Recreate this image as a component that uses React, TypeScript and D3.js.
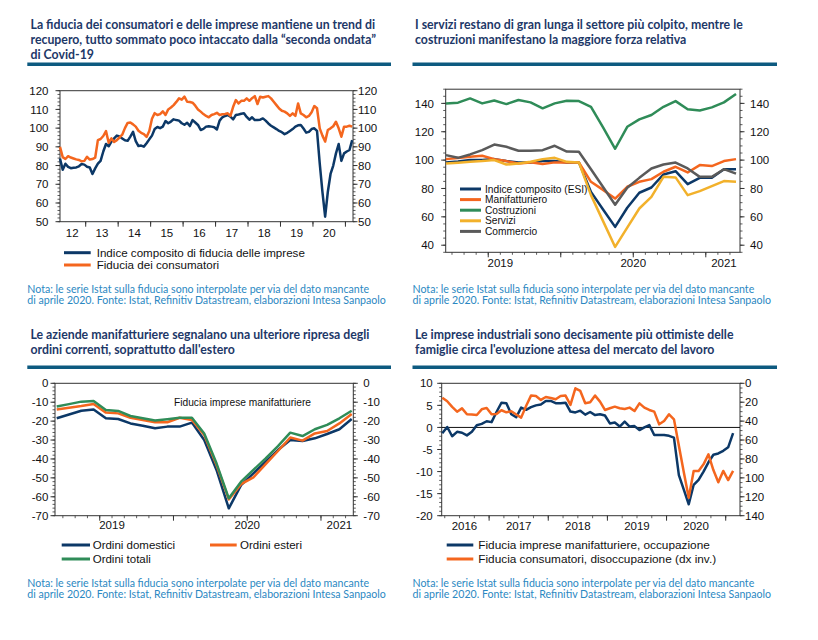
import { useEffect, useRef } from "react";
import * as d3 from "d3";

// Grafico 1: fiducia Istat, mensile mar-2012 / mar-2021
const p1Start: [number, number] = [2012, 3];
const p1YearLabels = ["12", "13", "14", "15", "16", "17", "18", "19", "20"];
const p1Imprese = [
  83.8, 77.8, 81, 79.3, 78.6, 78.8, 79, 79.6, 80.8, 80.5,
  79.4, 79, 75.5, 78.5, 81, 82.5, 87.5, 91.5, 90.3, 92.8,
  94.5, 96, 95.5, 94.5, 93.5, 93.2, 95.5, 98, 93, 90.4,
  90.7, 90.1, 91.9, 94, 96, 99.5, 100.6, 100, 100.8, 103.8,
  102.6, 103.5, 104.7, 104.3, 104, 102.6, 101.8, 102.9, 101.1, 104.3,
  103, 101.7, 99, 99.6, 100.8, 101, 100.8, 100.5, 99.3, 104,
  105.8, 106.5, 107, 106.1, 104.7, 107, 107.3, 107.7, 107.9, 106,
  104.5, 105.8, 104.3, 104.3, 104.5, 105.2, 104, 102.5, 101.3, 100.4,
  99.5, 98.5, 97.8, 96.8, 97.5, 98.5, 99.5, 100.8, 101.5, 101.7,
  99.8, 97.6, 98, 99.5, 99.9, 98.5, 81.2, 66, 52.7, 66,
  75.5, 80, 86.5, 91.5, 82.5, 86.5, 87.5, 88.3, 93.6,
];
const p1Consumatori = [
  90, 84.5, 83.5, 85, 84.3, 83.8, 83.3, 83, 82.3, 82.5,
  84.7, 83.2, 83.5, 84.2, 93.6, 94.2, 95.8, 98.4, 92.2, 94.5,
  92.6, 93.6, 95, 96.5, 100, 102.8, 103, 102, 100.8, 98.6,
  97.5, 96.8, 95.3, 98.5, 105, 108, 107, 107.5, 109, 107,
  110, 111, 112.3, 114, 115.9, 115.2, 116.8, 114.1, 114, 113.6,
  112, 110, 108.8, 107.5, 106.5, 105.8, 107, 107.5, 108.2, 107,
  107.4, 107.6, 107.9, 106.5, 111.4, 115, 113.2, 114.6, 114.6, 115.9,
  114.6, 116, 117.1, 112.9, 116.8, 116.4, 116.8, 117.1, 115.9, 114.1,
  112.3, 110.5, 109.3, 108.8, 107.9, 106.5, 107.9, 106.5, 113.2, 107.9,
  107, 105.8, 106.5, 108.5, 111.8, 110.6, 99.9, 96, 92.8, 99,
  99.9, 101, 103.4, 99.9, 95.4, 100.8, 100.8, 101.3, 100.8,
];

// Grafico 2: ESI per settore, mar-2019 / mar-2021
const p2Start: [number, number] = [2019, 3];
const p2YearLabels = ["2019", "2020", "2021"];
const p2Esi = [98.4, 99, 100, 100, 100.7, 99.3, 98.4, 98.4, 99.3, 99.3, 98.4, 98.4, 77.6, 65.2, 52.9, 66.4, 77, 80.7, 89.9, 92.2, 83, 87.5, 87.5, 93.6, 93.6];
const p2Manif = [100.7, 101.5, 102.4, 103.1, 100.7, 99.3, 97.6, 98.4, 97.2, 98.4, 98.4, 98.4, 84.7, 79, 72.9, 81.2, 84.7, 86.6, 91.8, 95.3, 91.3, 96.5, 95.8, 99.3, 100.7];
const p2Costr = [140, 140.5, 143.5, 140, 142, 139.5, 142.4, 140.7, 136.5, 140, 141.9, 141.6, 137.6, 123, 108, 123.5, 128.7, 131.8, 137.6, 141.6, 135.8, 135, 137.2, 140.7, 146.6];
const p2Servizi = [97.6, 98.2, 98.8, 99.3, 100, 96.9, 97.6, 98.8, 100.7, 101.6, 98.8, 98.4, 75.3, 57, 38.8, 52.4, 65.9, 74.1, 88.2, 87.8, 75.3, 78.1, 81.6, 85.2, 84.7];
const p2Commercio = [103.5, 101.6, 104, 107, 111, 109.4, 106.6, 106.6, 107, 110.1, 106, 105.9, 93.5, 81, 68.5, 80.5, 87.5, 94.1, 96.9, 98.3, 94.1, 88.2, 88.2, 93.6, 90.5];
const p2Names = ["Indice composito (ESI)", "Manifatturiero", "Costruzioni", "Servizi", "Commercio"];

// Grafico 3: ordini manifattura, mar-2019 / mar-2021
const p3Start: [number, number] = [2019, 3];
const p3YearLabels = ["2019", "2020", "2021"];
const p3Domestici = [-18.5, -16.5, -14.5, -13.8, -18.5, -18.9, -21.2, -22.4, -23.8, -22.9, -22.9, -20.8, -30, -45.8, -66.1, -53.8, -47.6, -41.4, -35.3, -30, -30.5, -29.1, -26.8, -24.3, -18.9];
const p3Esteri = [-13.8, -12.9, -12, -10.9, -15.5, -15.9, -18.2, -19.4, -20.6, -20.6, -18.2, -19.4, -27.3, -43.2, -61.4, -53.3, -49.7, -42.7, -35.8, -28.7, -30.3, -26.5, -25.2, -21.2, -16.2];
const p3Totali = [-12.3, -11, -9.7, -9.3, -14.1, -14.6, -17.3, -18.5, -19.7, -19, -18.2, -18.2, -26.5, -42.3, -60.8, -52, -45.8, -39.7, -33.2, -26.1, -27.9, -24.3, -22, -18.5, -14.5];

// Grafico 4: occupazione / disoccupazione attese, mar-2016 / feb-2021
const p4Start: [number, number] = [2016, 3];
const p4YearLabels = ["2016", "2017", "2018", "2019", "2020"];
const p4Occupazione = [
  -1.3, 0.1, -2.0, -1.0, -1.2, -1.8, -1.0, 0.5, 0.8, 1.4,
  1.2, 3.5, 5.6, 5.5, 3.0, 2.3, 4.5, 4.0, 4.6, 5.0,
  5.2, 6.0, 6.0, 5.5, 5.5, 5.6, 3.6, 3.4, 3.8, 2.9,
  3.5, 2.8, 3.0, 2.7, 0.9, 1.1, 0.2, 1.3, 0.2, 0.3,
  -0.6, 0, 0.55, -1.7, -1.7, -1.7, -1.9, -2.3, -10.8, -14.1,
  -17.4, -13, -11.9, -10, -7.9, -6.2, -5.9, -5.3, -4.5, -1.3,
];
const p4Disoccupazione = [
  15.2, 19, 25, 30, 26.5, 32.8, 33, 33.5, 27.5, 26,
  32.8, 32.5, 28.5, 30.7, 29.5, 33, 36.3, 24, 13, 13.5,
  17.6, 14.5, 15.5, 16.9, 13.4, 13, 22.9, 5.3, 8.1, 21,
  20.1, 13, 19.4, 28.2, 26.4, 24.7, 26.4, 27.2, 25.7, 29.3,
  21.2, 25.7, 28.2, 30, 43.4, 39.8, 32.8, 38.1, 66, 94,
  121, 92.7, 92.7, 85.7, 75.1, 91.7, 104.7, 92.7, 102.3, 92.7,
];

const titles = [
  ["La fiducia dei consumatori e delle imprese mantiene un trend di", "recupero, tutto sommato poco intaccato dalla \u201cseconda ondata\u201d", "di Covid-19"],
  ["I servizi restano di gran lunga il settore più colpito, mentre le", "costruzioni manifestano la maggiore forza relativa"],
  ["Le aziende manifatturiere segnalano una ulteriore ripresa degli", "ordini correnti, soprattutto dall'estero"],
  ["Le imprese industriali sono decisamente più ottimiste delle", "famiglie circa l'evoluzione attesa del mercato del lavoro"],
];
const nota = [
  "Nota: le serie Istat sulla fiducia sono interpolate per via del dato mancante",
  "di aprile 2020. Fonte: Istat, Refinitiv Datastream, elaborazioni Intesa Sanpaolo",
];

const NAVY = "#0c3867";
const ORANGE = "#f4661e";
const GREEN = "#2f8c58";
const YELLOW = "#f2b12b";
const GREY = "#5a5a5a";
const AXIS = "#333";
const TITLE = "#1d3868";
const RULE = "#0d5a80";
const NOTE = "#2b88c2";
const SANS = "'Liberation Sans', Arial, sans-serif";
const HEAD = "Lato, 'Open Sans', sans-serif";

type Start = [number, number];
type G = d3.Selection<SVGGElement, unknown, null, undefined>;
type Box = { x0: number; x1: number; y0: number; y1: number };

const monthOf = (s: Start, i: number) => (s[1] - 1 + i) % 12;
const boundaries = (s: Start, n: number, every: number) =>
  d3.range(1, n).filter((i) => monthOf(s, i) % every === 0).map((i) => i - 0.5);
const yearCentres = (s: Start, n: number, labels: string[]) =>
  labels.map((t, k) => {
    const f = k * 12 - (s[1] - 1);
    const a = Math.max(0, f), b = Math.min(n - 1, f + 11);
    return { t, c: (a + b) / 2 };
  });

function frame(g: G, b: Box) {
  g.append("rect")
    .attr("x", b.x0).attr("y", b.y0)
    .attr("width", b.x1 - b.x0).attr("height", b.y1 - b.y0)
    .attr("fill", "none").attr("stroke", AXIS).attr("stroke-width", 1);
}

function yAxis(g: G, y: d3.ScaleLinear<number, number>, x: number, side: "left" | "right",
  ticks: number[], minor: number, gap: number) {
  const dir = side === "left" ? -1 : 1;
  const [a, b] = d3.extent(y.domain()) as [number, number];
  for (let v = a; v <= b + 1e-9; v += minor) {
    g.append("line").attr("x1", x).attr("x2", x + dir * 2.5)
      .attr("y1", y(v)).attr("y2", y(v)).attr("stroke", AXIS).attr("stroke-width", 0.8);
  }
  ticks.forEach((v) => {
    g.append("line").attr("x1", x).attr("x2", x + dir * 4.5)
      .attr("y1", y(v)).attr("y2", y(v)).attr("stroke", AXIS).attr("stroke-width", 1);
    g.append("text").attr("x", x + dir * gap).attr("y", y(v)).attr("dy", "0.36em")
      .attr("text-anchor", side === "left" ? "end" : "start")
      .attr("font-family", SANS).attr("font-size", 11.5).attr("fill", "#111")
      .text(String(v));
  });
}

function xAxis(g: G, x: d3.ScaleLinear<number, number>, b: Box, s: Start, n: number,
  labels: string[], majorEvery: number, minorEvery: number, labelY: number) {
  boundaries(s, n, minorEvery).forEach((i) => {
    g.append("line").attr("x1", x(i)).attr("x2", x(i)).attr("y1", b.y1).attr("y2", b.y1 + 2.5)
      .attr("stroke", AXIS).attr("stroke-width", 0.8);
  });
  boundaries(s, n, majorEvery).forEach((i) => {
    g.append("line").attr("x1", x(i)).attr("x2", x(i)).attr("y1", b.y1).attr("y2", b.y1 + 5)
      .attr("stroke", AXIS).attr("stroke-width", 1);
  });
  yearCentres(s, n, labels).forEach(({ t, c }) => {
    g.append("text").attr("x", x(c)).attr("y", labelY).attr("dy", "0.36em")
      .attr("text-anchor", "middle").attr("font-family", SANS).attr("font-size", 11.5)
      .attr("fill", "#111").text(t);
  });
}

function series(g: G, x: d3.ScaleLinear<number, number>, y: d3.ScaleLinear<number, number>,
  values: number[], color: string) {
  const line = d3.line<number>().x((_, i) => x(i)).y((d) => y(d));
  g.append("path").attr("d", line(values)).attr("fill", "none")
    .attr("stroke", color).attr("stroke-width", 2.5).attr("stroke-linejoin", "round");
}

function legendRow(g: G, x0: number, x1: number, tx: number, y: number, color: string,
  label: string, size: number) {
  g.append("line").attr("x1", x0).attr("x2", x1).attr("y1", y).attr("y2", y)
    .attr("stroke", color).attr("stroke-width", 3);
  g.append("text").attr("x", tx).attr("y", y).attr("dy", "0.36em")
    .attr("font-family", SANS).attr("font-size", size).attr("fill", "#111").text(label);
}

function heading(g: G, x: number, lines: string[], y0: number, ruleX0: number, ruleX1: number, ruleY: number) {
  lines.forEach((t, k) => {
    g.append("text").attr("x", x).attr("y", y0 + k * 14.8)
      .attr("font-family", HEAD).attr("font-weight", 700).attr("font-size", 12.3)
      .attr("fill", TITLE).text(t);
  });
  g.append("line").attr("x1", ruleX0).attr("x2", ruleX1).attr("y1", ruleY).attr("y2", ruleY)
    .attr("stroke", RULE).attr("stroke-width", 3.5);
}

function note(g: G, x: number, y0: number) {
  nota.forEach((t, k) => {
    g.append("text").attr("x", x).attr("y", y0 + k * 11)
      .attr("font-family", HEAD).attr("font-size", 10.6).attr("fill", NOTE).text(t);
  });
}

export default function App() {
  const ref = useRef<SVGSVGElement | null>(null);

  useEffect(() => {
    if (!ref.current) return;
    const svg = d3.select(ref.current);
    svg.selectAll("*").remove();
    const root = svg.append("g") as G;

    // Titoli e note
    heading(root, 30.5, titles[0], 29.3, 27.3, 391, 64.3);
    heading(root, 415, titles[1], 29.3, 412.5, 777, 64.3);
    heading(root, 30.5, titles[2], 339.3, 27.3, 391, 367.3);
    heading(root, 415, titles[3], 339.3, 412.5, 777, 367.3);
    note(root, 27.3, 293.3);
    note(root, 412.5, 293.3);
    note(root, 27.3, 586.5);
    note(root, 412.5, 586.5);

    // Grafico 1
    {
      const b: Box = { x0: 60, x1: 353, y0: 90.7, y1: 221.7 };
      const n = p1Imprese.length;
      const x = d3.scaleLinear().domain([0, n - 0.7]).range([b.x0, b.x1]);
      const y = d3.scaleLinear().domain([50, 120]).range([b.y1, b.y0]);
      const g = root.append("g") as G;
      frame(g, b);
      yAxis(g, y, b.x0, "left", d3.range(50, 121, 10), 2, 11.5);
      yAxis(g, y, b.x1, "right", d3.range(50, 121, 10), 2, 5);
      xAxis(g, x, b, p1Start, n, p1YearLabels, 12, 12, 233.3);
      series(g, x, y, p1Imprese, NAVY);
      series(g, x, y, p1Consumatori, ORANGE);
      legendRow(g, 64, 90.7, 96.7, 252.7, NAVY, "Indice composito di fiducia delle imprese", 11.6);
      legendRow(g, 64, 90.7, 96.7, 265, ORANGE, "Fiducia dei consumatori", 11.6);
    }

    // Grafico 2
    {
      const b: Box = { x0: 445.7, x1: 740, y0: 89.2, y1: 252.3 };
      const n = p2Esi.length;
      const x = d3.scaleLinear().domain([-0.02, 24.33]).range([b.x0, b.x1]);
      const y = d3.scaleLinear().domain([35, 150]).range([b.y1, b.y0]);
      const g = root.append("g") as G;
      frame(g, b);
      yAxis(g, y, b.x0, "left", d3.range(40, 141, 20), 5, 11.7);
      yAxis(g, y, b.x1, "right", d3.range(40, 141, 20), 5, 10);
      xAxis(g, x, b, p2Start, n, p2YearLabels, 6, 1, 262.7);
      const data = [p2Esi, p2Manif, p2Costr, p2Servizi, p2Commercio];
      const colors = [NAVY, ORANGE, GREEN, YELLOW, GREY];
      data.forEach((d, k) => series(g, x, y, d, colors[k]));
      const rows = [189, 199.6, 210.2, 220.8, 231.4];
      p2Names.forEach((t, k) => legendRow(g, 460, 481, 485, rows[k], colors[k], t, 10.2));
    }

    // Grafico 3
    {
      const b: Box = { x0: 55, x1: 353.3, y0: 383.3, y1: 515.7 };
      const n = p3Domestici.length;
      const x = d3.scaleLinear().domain([-0.14, 24.13]).range([b.x0, b.x1]);
      const y = d3.scaleLinear().domain([-70, 0]).range([b.y1, b.y0]);
      const g = root.append("g") as G;
      frame(g, b);
      yAxis(g, y, b.x0, "left", d3.range(-70, 1, 10), 2, 6.7);
      yAxis(g, y, b.x1, "right", d3.range(-70, 1, 10), 2, 10);
      xAxis(g, x, b, p3Start, n, p3YearLabels, 6, 1, 525);
      series(g, x, y, p3Domestici, NAVY);
      series(g, x, y, p3Esteri, ORANGE);
      series(g, x, y, p3Totali, GREEN);
      g.append("text").attr("x", 174).attr("y", 402.7).attr("dy", "0.36em")
        .attr("font-family", SANS).attr("font-size", 10.2).attr("fill", "#111")
        .text("Fiducia imprese manifatturiere");
      legendRow(g, 61.7, 90, 92.7, 545, NAVY, "Ordini domestici", 11.5);
      legendRow(g, 210, 236.7, 240, 545, ORANGE, "Ordini esteri", 11.5);
      legendRow(g, 61.7, 90, 92.7, 559, GREEN, "Ordini totali", 11.5);
    }

    // Grafico 4
    {
      const b: Box = { x0: 441.7, x1: 740, y0: 383.3, y1: 515.7 };
      const n = p4Occupazione.length;
      const x = d3.scaleLinear().domain([-0.12, 60.4]).range([b.x0, b.x1]);
      const yl = d3.scaleLinear().domain([-20, 10]).range([b.y1, b.y0]);
      const yr = d3.scaleLinear().domain([140, 0]).range([b.y1, b.y0]);
      const g = root.append("g") as G;
      frame(g, b);
      yAxis(g, yl, b.x0, "left", d3.range(-20, 11, 5), 1, 9);
      yAxis(g, yr, b.x1, "right", d3.range(0, 141, 20), 5, 5);
      xAxis(g, x, b, p4Start, n, p4YearLabels, 12, 3, 526);
      g.append("line").attr("x1", b.x0).attr("x2", b.x1).attr("y1", yl(0)).attr("y2", yl(0))
        .attr("stroke", "#111").attr("stroke-width", 1);
      series(g, x, yl, p4Occupazione, NAVY);
      series(g, x, yr, p4Disoccupazione, ORANGE);
      legendRow(g, 446.7, 473.3, 478.3, 545, NAVY, "Fiducia imprese manifatturiere, occupazione", 11.8);
      legendRow(g, 446.7, 473.3, 478.3, 559, ORANGE, "Fiducia consumatori, disoccupazione (dx inv.)", 11.8);
    }
  }, []);

  return (
    <div style={{ position: "absolute", left: 0, top: 0 }}>
      <svg ref={ref} width={818} height={640} style={{ display: "block", background: "#fff" }} />
    </div>
  );
}
